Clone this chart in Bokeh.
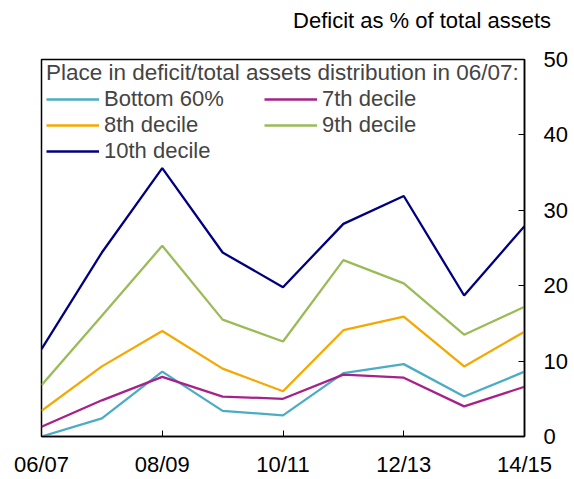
from bokeh.plotting import figure
from bokeh.models import Legend, LegendItem, LinearAxis, Range1d, FixedTicker, Title
from bokeh.embed import file_html
from bokeh.resources import INLINE

years = ["06/07", "07/08", "08/09", "09/10", "10/11", "11/12", "12/13", "13/14", "14/15"]
tick_years = ["06/07", "08/09", "10/11", "12/13", "14/15"]
bottom60 = [0.0, 2.4, 8.6, 3.4, 2.8, 8.4, 9.6, 5.3, 8.6]
decile7 = [1.3, 4.8, 7.9, 5.3, 5.0, 8.2, 7.8, 4.0, 6.6]
decile8 = [3.4, 9.3, 14.0, 9.0, 6.0, 14.1, 15.9, 9.3, 13.9]
decile9 = [6.8, 16.0, 25.3, 15.5, 12.6, 23.4, 20.3, 13.5, 17.2]
decile10 = [11.6, 24.4, 35.6, 24.4, 19.8, 28.2, 31.9, 18.7, 27.9]
y_ticks = [0, 10, 20, 30, 40, 50]

series_names = ["Bottom 60%", "7th decile", "8th decile", "9th decile", "10th decile"]
series_vals = [bottom60, decile7, decile8, decile9, decile10]
colors = ["#4bacc6", "#a6218a", "#f5a800", "#9bbb59", "#000080"]

FONT = "Liberation Sans"
FS = "22px"

xs = list(range(len(years)))

p = figure(width=574, height=479, output_backend="svg", toolbar_location=None,
           x_range=Range1d(0, len(years) - 1), y_range=Range1d(0, 50),
           min_border_left=41, min_border_right=50, min_border_top=59, min_border_bottom=42,
           y_axis_location=None)
p.background_fill_color = "white"
p.border_fill_color = "white"
p.outline_line_color = "black"
p.outline_line_width = 1.5
p.grid.visible = False

tick_pos = [years.index(t) for t in tick_years]
xa = p.xaxis[0]
xa.ticker = FixedTicker(ticks=tick_pos)
xa.major_label_overrides = {i: years[i] for i in tick_pos}
xa.major_tick_in = 6
xa.major_tick_out = 0
xa.minor_tick_line_color = None
xa.axis_line_width = 1.5
xa.major_label_text_font = FONT
xa.major_label_text_font_size = FS
xa.major_label_text_color = "black"
xa.major_label_standoff = 15

ya = LinearAxis(ticker=FixedTicker(ticks=y_ticks))
ya.major_tick_in = 6
ya.major_tick_out = 0
ya.minor_tick_line_color = None
ya.axis_line_width = 1.5
ya.major_label_text_font = FONT
ya.major_label_text_font_size = FS
ya.major_label_text_color = "black"
ya.major_label_standoff = 19
p.add_layout(ya, "right")

items = []
for name, vals, c in zip(series_names, series_vals, colors):
    r = p.line(xs, vals, line_color=c, line_width=2.3)
    items.append(LegendItem(label=name, renderers=[r]))

legend = Legend(items=items, location=(0, 267), orientation="horizontal", ncols=2,
                title="Place in deficit/total assets distribution in 06/07:",
                title_text_font=FONT, title_text_font_size="22.5px", title_text_font_style="normal",
                title_standoff=0,
                label_text_font=FONT, label_text_font_size=FS,
                glyph_width=53, glyph_height=24, label_height=24, label_width=160,
                label_standoff=5, spacing=0, padding=5, margin=0,
                background_fill_alpha=0, border_line_alpha=0)
p.add_layout(legend, "center")

title = Title(text="Deficit as % of total assets\n", align="right", offset=-26.5, standoff=4,
              text_font=FONT, text_font_size=FS, text_font_style="normal", text_color="black")
p.add_layout(title, "above")

open("out.html", "w").write(file_html(p, INLINE))
